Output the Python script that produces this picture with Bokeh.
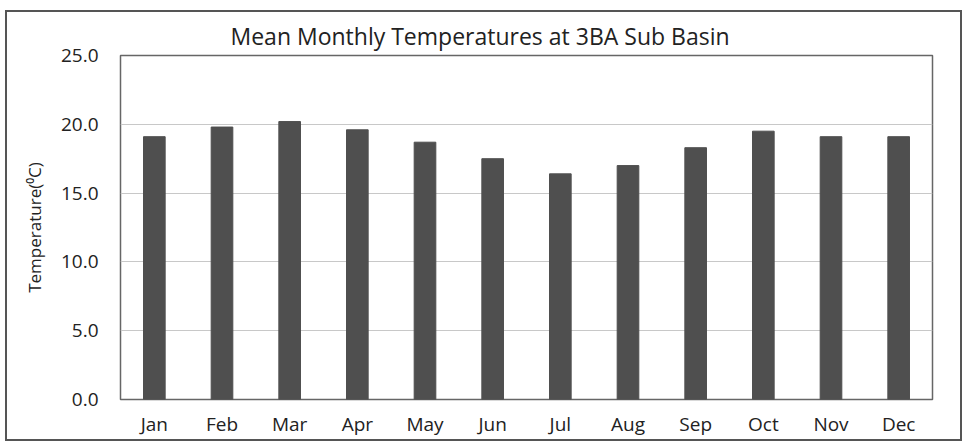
from bokeh.plotting import figure
from bokeh.models import Range1d, FixedTicker, NumeralTickFormatter
from bokeh.embed import file_html
from bokeh.resources import INLINE

months = ["Jan", "Feb", "Mar", "Apr", "May", "Jun", "Jul", "Aug", "Sep", "Oct", "Nov", "Dec"]
temps = [19.1, 19.8, 20.2, 19.6, 18.7, 17.5, 16.4, 17.0, 18.3, 19.5, 19.1, 19.1]
y_ticks = [0, 5, 10, 15, 20, 25]

FONT = "Open Sans"

p = figure(x_range=months, y_range=Range1d(0, 25), output_backend="svg",
           toolbar_location=None, tools="",
           frame_width=812, frame_height=344,
           min_border_left=113, min_border_right=28, min_border_top=43, min_border_bottom=39)

p.vbar(x=months, top=temps, width=0.32, color="#4f4f4f", line_color="#4f4f4f")

p.title.text = "Mean Monthly Temperatures at 3BA Sub Basin"
p.title.align = "left"
p.title.text_font = FONT
p.title.text_font_size = "23px"
p.title.text_font_style = "normal"
p.title.text_color = "#222222"
p.title.offset = 110
p.title.standoff = 8

p.outline_line_color = "#666666"
p.outline_line_width = 1.5

p.xgrid.grid_line_color = None
p.ygrid.grid_line_color = "#c8c8c8"
p.ygrid.ticker = FixedTicker(ticks=y_ticks)

p.yaxis.ticker = FixedTicker(ticks=y_ticks)
p.yaxis.formatter = NumeralTickFormatter(format="0.0")
p.yaxis.axis_label = "Temperature(\u2070C)"
p.yaxis.axis_label_text_font = FONT
p.yaxis.axis_label_text_font_size = "17px"
p.yaxis.axis_label_text_font_style = "normal"
p.yaxis.axis_label_text_color = "#222222"
p.yaxis.axis_label_standoff = 12

for ax in (p.xaxis[0], p.yaxis[0]):
    ax.axis_line_color = None
    ax.major_tick_line_color = None
    ax.minor_tick_line_color = None
    ax.major_label_text_font = FONT
    ax.major_label_text_font_size = "19px"
    ax.major_label_text_color = "#222222"

p.yaxis.major_label_standoff = 16
p.xaxis.major_label_standoff = 5

p.styles = {"border": "2px solid #555555", "position": "relative",
            "left": "5px", "top": "10px"}

open("out.html", "w").write(file_html(p, INLINE))
